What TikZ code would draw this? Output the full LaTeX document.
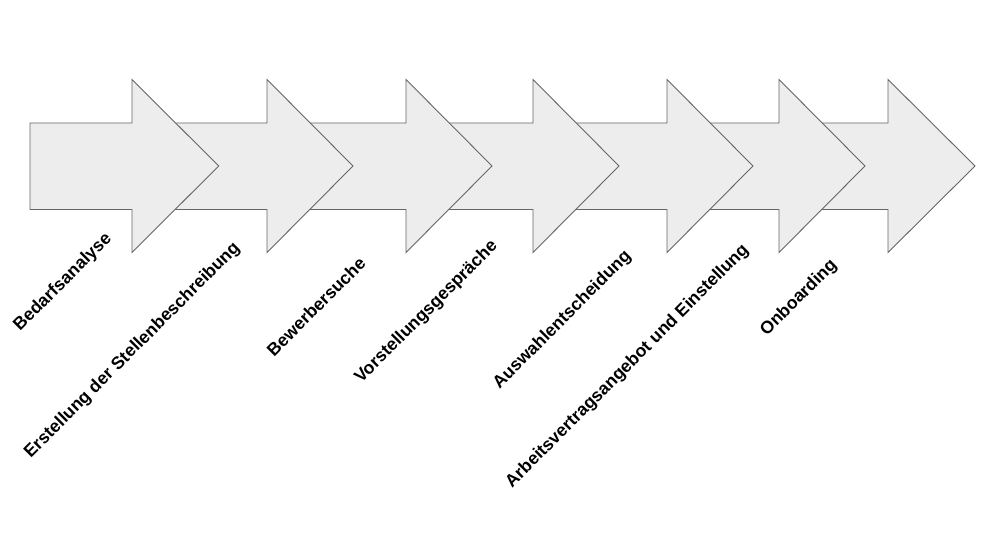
\documentclass[tikz,border=0pt]{standalone}
\usepackage{fontspec}
\setmainfont{Liberation Sans}
\begin{document}
\begin{tikzpicture}[x=1pt,y=-1pt,
  stagearrow/.style={draw=black!60,fill=black!7,line width=0.9pt,line join=miter},
  stagelabel/.style={rotate=45,anchor=center,inner sep=0pt,font=\fontsize{17.6}{21}\selectfont\bfseries}]
\useasboundingbox (0,0) rectangle (988,534);
% arrows: shaft start, head base, tip (drawn last-to-first so earlier ones lie on top)
\foreach \sx/\hb/\tp in {779/888/975, 667/779/865, 533/667/753, 406/533/619, 267/406/492, 132/267/353, 30/132/218.7}{
  \path[stagearrow] (\sx,123) -- (\hb,123) -- (\hb,79.5) -- (\tp,166) -- (\hb,252.5) -- (\hb,209.5) -- (\sx,209.5) -- cycle;
}
\node[stagelabel] (l1) at (63,282.5) {Bedarfsanalyse};
\node[stagelabel] (l2) at (132.5,350.5) {Erstellung der Stellenbeschreibung};
\node[stagelabel] (l3) at (316,306.5) {Bewerbersuche};
\node[stagelabel] (l4) at (426.5,312) {Vorstellungsgespräche};
\node[stagelabel] (l5) at (562.5,320) {Auswahlentscheidung};
\node[stagelabel] (l6) at (627.5,366.5) {Arbeitsvertragsangebot und Einstellung};
\node[stagelabel] (l7) at (799,298) {Onboarding};
\end{tikzpicture}
\end{document}
